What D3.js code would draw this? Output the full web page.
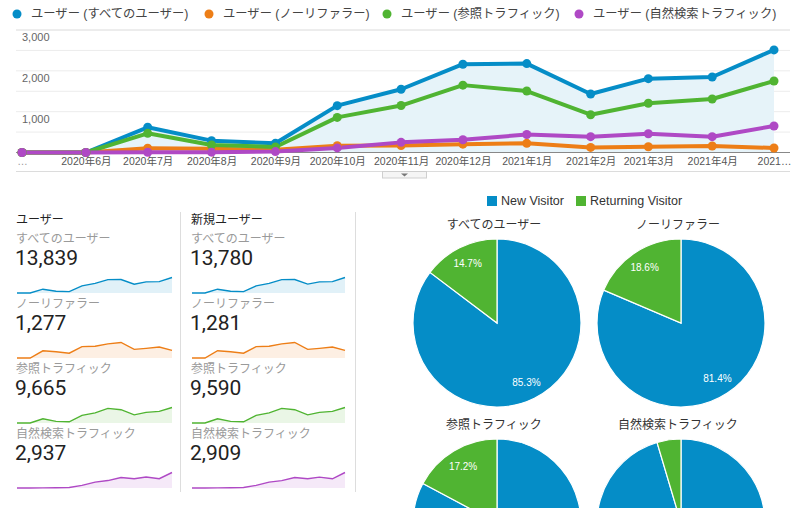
<!DOCTYPE html>
<html><head><meta charset="utf-8">
<script src="https://cdn.jsdelivr.net/npm/d3@7"></script>
<style>
body{margin:0;background:#fff}
svg{display:block}
text{font-family:"Liberation Sans",Arial,"Noto Sans CJK JP",sans-serif}
</style>
</head><body>
<svg id="c" width="800" height="508"></svg>
<script>
// ---------- DATA ----------
const months = ["2020-05-01","2020-06-01","2020-07-01","2020-08-01","2020-09-01","2020-10-01","2020-11-01","2020-12-01","2021-01-01","2021-02-01","2021-03-01","2021-04-01","2021-05-01"];
const xLabels = ["…","2020年6月","2020年7月","2020年8月","2020年9月","2020年10月","2020年11月","2020年12月","2021年1月","2021年2月","2021年3月","2021年4月","2021…"];
const yTicks = [1000, 2000, 3000];
const seriesNames = ["ユーザー (すべてのユーザー)","ユーザー (ノーリファラー)","ユーザー (参照トラフィック)","ユーザー (自然検索トラフィック)"];
const seriesColors = ["#058dc7","#ed7e17","#50b432","#af49c5"];

const usersAll      = [0,0,617,290,225,1147,1549,2162,2177,1434,1809,1850,2512];
const usersNoRef    = [0,0,105,90,70,165,170,205,225,125,140,160,110];
const usersReferral = [0,0,470,185,135,860,1150,1650,1505,925,1205,1310,1752];
const usersOrganic  = [0,0,5,8,22,112,248,312,440,388,458,388,650];

const newUsersAll      = [0,0,614,287,222,1142,1542,2152,2168,1428,1800,1842,2500];
const newUsersNoRef    = [0,0,106,91,70,166,171,206,226,126,141,161,111];
const newUsersReferral = [0,0,466,182,132,852,1140,1636,1492,916,1195,1298,1738];
const newUsersOrganic  = [0,0,5,8,21,110,245,308,436,384,452,384,644];

const segmentNames = ["すべてのユーザー","ノーリファラー","参照トラフィック","自然検索トラフィック"];
const usersTotals = ["13,839","1,277","9,665","2,937"];
const newUsersTotals = ["13,780","1,281","9,590","2,909"];

const pieLegend = ["New Visitor","Returning Visitor"];
const pieColors = ["#058dc7","#50b432"];
const newVisitorPct = [85.3, 81.4, 82.8, 95.4];
const returningPct  = [14.7, 18.6, 17.2, 4.6];

// ---------- DRAW ----------
const svg = d3.select("#c");
const parse = d3.timeParse("%Y-%m-%d");
const dates = months.map(parse);

// Top legend
const legX = [17, 209, 387, 579];
seriesNames.forEach((n,i)=>{
  svg.append("circle").attr("cx",legX[i]).attr("cy",14).attr("r",4.5).attr("fill",seriesColors[i]);
  svg.append("text").attr("x",legX[i]+14).attr("y",14).attr("dominant-baseline","central")
    .attr("font-size",12.3).attr("fill","#444").text(n);
});

// Main chart scales
const x = d3.scaleTime().domain([dates[0], dates[dates.length-1]]).range([22, 774]);
const y = d3.scaleLinear().domain([0,3000]).range([152.5, 30]);

// gridlines
const grid = d3.range(500, 3001, 500);
svg.append("g").selectAll("line").data(grid).join("line")
  .attr("x1",16).attr("x2",790).attr("y1",d=>y(d)).attr("y2",d=>y(d))
  .attr("stroke","#ececec").attr("stroke-width",1);
svg.append("line").attr("x1",16).attr("x2",790).attr("y1",y(3000)).attr("y2",y(3000)).attr("stroke","#e4e4e4");

svg.append("g").selectAll("text").data(yTicks).join("text")
  .attr("x",22).attr("y",d=>y(d)+7).attr("dominant-baseline","central")
  .attr("font-size",11).attr("fill","#666").text(d=>d3.format(",")(d));

// area under all users
const allSeries = [usersAll, usersNoRef, usersReferral, usersOrganic];
const area = d3.area().x((d,i)=>x(dates[i])).y0(y(0)).y1(d=>y(d));
svg.append("path").datum(usersAll).attr("d",area).attr("fill","#e6f3f9");

// baseline
svg.append("line").attr("x1",16).attr("x2",790).attr("y1",y(0)).attr("y2",y(0)).attr("stroke","#888").attr("stroke-width",1);

// x axis
const xAxis = d3.axisBottom(x).tickValues(dates).tickSize(0).tickPadding(5)
  .tickFormat((d,i)=>xLabels[i]);
const gx = svg.append("g").attr("transform",`translate(0,${y(0)})`).call(xAxis);
gx.select(".domain").remove();
gx.selectAll("text").attr("font-size",10.5).attr("fill","#555")
  .style("font-family",'"Liberation Sans",Arial,"Noto Sans CJK JP",sans-serif');
gx.selectAll(".tick text").filter((d,i)=>i===0).attr("fill","#999");

// lines
const line = d3.line().x((d,i)=>x(dates[i])).y(d=>y(d));
allSeries.forEach((s,k)=>{
  svg.append("path").datum(s).attr("d",line).attr("fill","none")
    .attr("stroke",seriesColors[k]).attr("stroke-width",4).attr("stroke-linejoin","round");
});
allSeries.forEach((s,k)=>{
  svg.append("g").selectAll("circle").data(s).join("circle")
    .attr("cx",(d,i)=>x(dates[i])).attr("cy",d=>y(d)).attr("r",4.5).attr("fill",seriesColors[k]);
});

// bottom light line and tab
svg.append("line").attr("x1",16).attr("x2",790).attr("y1",171.5).attr("y2",171.5).attr("stroke","#dcdcdc");
svg.append("rect").attr("x",382.5).attr("y",171.5).attr("width",44).attr("height",6.5).attr("fill","#f5f5f5").attr("stroke","#cfcfcf");
svg.append("path").attr("d","M401,173.5 L408,173.5 L404.5,176.5 Z").attr("fill","#777");

// left panels
function panel(x0, x1, title, totals, seriesList){
  svg.append("text").attr("x",x0).attr("y",220).attr("dominant-baseline","central")
    .attr("font-size",12).attr("fill","#222").text(title);
  const sx = d3.scaleTime().domain([dates[0], dates[dates.length-1]]).range([x0+1, x1]);
  seriesList.forEach((s,k)=>{
    const off = k*65;
    svg.append("text").attr("x",x0).attr("y",239+off).attr("dominant-baseline","central")
      .attr("font-size",12).attr("fill","#9a9a9a").text(segmentNames[k]);
    svg.append("text").attr("x",x0-1).attr("y",258+off).attr("dominant-baseline","central")
      .attr("font-size",21).attr("fill","#222").style("font-family","Roboto,Arial,sans-serif").text(totals[k]);
    const bottom = 293+off;
    const sy = d3.scaleLinear().domain([0, d3.max(s)]).range([bottom, bottom-15.5]);
    const ar = d3.area().x((d,i)=>sx(dates[i])).y0(bottom).y1(d=>sy(d));
    const ln = d3.line().x((d,i)=>sx(dates[i])).y(d=>sy(d));
    svg.append("path").datum(s).attr("d",ar).attr("fill",seriesColors[k]).attr("fill-opacity",0.12);
    svg.append("path").datum(s).attr("d",ln).attr("fill","none").attr("stroke",seriesColors[k]).attr("stroke-width",1.4);
  });
}
panel(16, 172, "ユーザー", usersTotals, [usersAll, usersNoRef, usersReferral, usersOrganic]);
panel(191, 345, "新規ユーザー", newUsersTotals, [newUsersAll, newUsersNoRef, newUsersReferral, newUsersOrganic]);
svg.append("line").attr("x1",180.5).attr("x2",180.5).attr("y1",212).attr("y2",492).attr("stroke","#ddd");
svg.append("line").attr("x1",355.5).attr("x2",355.5).attr("y1",212).attr("y2",492).attr("stroke","#ddd");

// pie legend
const plX = [487, 576];
pieLegend.forEach((n,i)=>{
  svg.append("rect").attr("x",plX[i]).attr("y",196).attr("width",10).attr("height",10).attr("fill",pieColors[i]);
  svg.append("text").attr("x",plX[i]+14).attr("y",201).attr("dominant-baseline","central")
    .attr("font-size",12.5).attr("fill","#333").text(n);
});

// pies
const centers = [[497,323],[681,323],[497,523],[681,523]];
const R = 84;
const pie = d3.pie().sort(null).value(d=>d);
const arc = d3.arc().innerRadius(0).outerRadius(R);
const labelArc = d3.arc().innerRadius(66).outerRadius(66);
segmentNames.forEach((n,k)=>{
  const [cx,cy] = centers[k];
  svg.append("text").attr("x",cx-3).attr("y",cy-R-14).attr("text-anchor","middle")
    .attr("dominant-baseline","central").attr("font-size",12).attr("fill","#333").text(n);
  const g = svg.append("g").attr("transform",`translate(${cx},${cy})`);
  const arcs = pie([newVisitorPct[k], returningPct[k]]);
  g.selectAll("path").data(arcs).join("path").attr("d",arc)
    .attr("fill",(d,i)=>pieColors[i]).attr("stroke","#fff").attr("stroke-width",1.2);
  // labels only for slices >= 5% whose label lies inside the visible page
  g.selectAll("text").data(arcs.filter(d=>d.data>=5 && cy+labelArc.centroid(d)[1] < 495)).join("text")
    .attr("transform",d=>`translate(${labelArc.centroid(d)})`)
    .attr("text-anchor","middle").attr("dominant-baseline","central")
    .attr("font-size",10).attr("fill","#fff").text(d=>d.data.toFixed(1)+"%");
});
</script>
</body></html>
